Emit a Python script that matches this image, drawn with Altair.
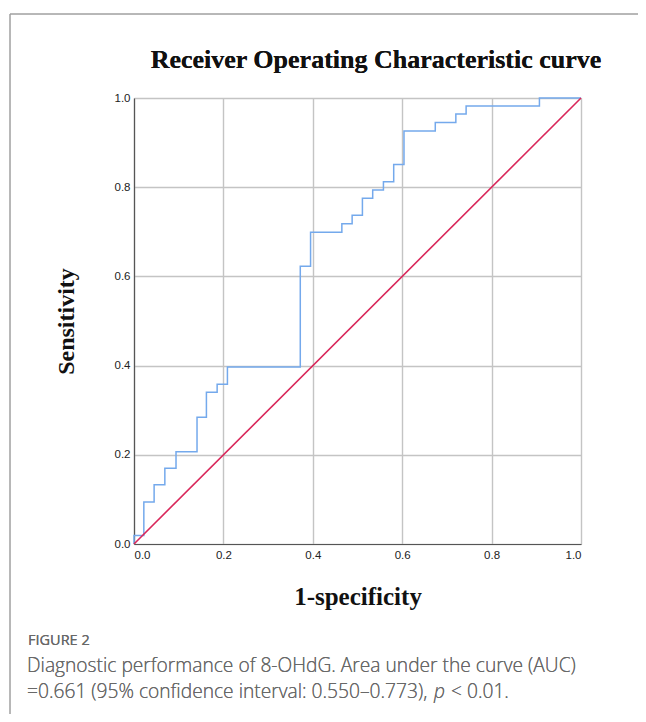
import altair as alt
import pandas as pd

# ROC curve vertices (top of each vertical step)
fpr = [0.0, 0.0, 0.022, 0.045, 0.069, 0.094, 0.141, 0.162, 0.186, 0.209,
       0.372, 0.395, 0.465, 0.488, 0.511, 0.534, 0.558, 0.581, 0.604,
       0.674, 0.720, 0.743, 0.907, 1.0]
tpr = [0.0, 0.019, 0.094, 0.133, 0.170, 0.207, 0.284, 0.340, 0.358, 0.397,
       0.623, 0.699, 0.718, 0.737, 0.775, 0.794, 0.812, 0.851, 0.926,
       0.945, 0.964, 0.982, 1.0, 1.0]
ref_x = [0.0, 1.0]
ref_y = [0.0, 1.0]
ticks = [0.0, 0.2, 0.4, 0.6, 0.8, 1.0]

chart_title = "Receiver Operating Characteristic curve"
caption_head = "FIGURE 2"
caption_line1 = "Diagnostic performance of 8-OHdG. Area under the curve (AUC)"
caption_line2a = "=0.661 (95% confidence interval: 0.550\u20130.773),"
caption_p = "p"
caption_line2b = "< 0.01."

roc = pd.DataFrame({"x": fpr, "y": tpr})
diag = pd.DataFrame({"x": ref_x, "y": ref_y})

W, H = 447, 446
PL, PT = 126, 90


def px(x):
    return x - 8 - PL


def py(y):
    return y - 8 - PT


xs = alt.Scale(domain=[0, 1], nice=False)
ys = alt.Scale(domain=[0, 1], nice=False)

xaxis = alt.Axis(values=ticks, format=".1f", title="1-specificity", grid=True,
                 titleFont="Liberation Serif", titleFontSize=25, titleFontWeight="bold",
                 titleColor="#111", titlePadding=24)
yaxis = alt.Axis(values=ticks, format=".1f", title="Sensitivity", grid=True,
                 titleFont="Liberation Serif", titleFontSize=24, titleFontWeight="bold",
                 titleColor="#111", titlePadding=36)

line = alt.Chart(roc).mark_line(interpolate="step-after", color="#74a9ec",
                                strokeWidth=1.5).encode(
    x=alt.X("x:Q", scale=xs, axis=xaxis),
    y=alt.Y("y:Q", scale=ys, axis=yaxis),
)

ref = alt.Chart(diag).mark_line(color="#d9275a", strokeWidth=1.6).encode(
    x=alt.X("x:Q", scale=xs),
    y=alt.Y("y:Q", scale=ys),
)

# Figure frame (top and left border)
frame_top = alt.Chart(diag).mark_rule(color="#a0a0a0", strokeWidth=1).encode(
    x=alt.value(px(10)), x2=alt.value(700), y=alt.value(py(14)))
frame_left = alt.Chart(diag).mark_rule(color="#a0a0a0", strokeWidth=1).encode(
    x=alt.value(px(10)), y=alt.value(py(14)), y2=alt.value(800))

title_txt = alt.Chart(diag).mark_text(
    text=chart_title, align="center", baseline="alphabetic", font="Liberation Serif",
    fontSize=26, fontWeight="bold", color="#111").encode(
    x=alt.value(px(376)), y=alt.value(py(68)))


def cap(text, x, y, size, weight=300, style="normal"):
    return alt.Chart(diag).mark_text(
        text=text, align="left", baseline="alphabetic", font="Open Sans",
        fontSize=size, fontWeight=weight, fontStyle=style, color="#686868").encode(
        x=alt.value(px(x)), y=alt.value(py(y)))


cap_head = cap(caption_head, 28, 645, 14.5, weight=400)
cap1 = cap(caption_line1, 27, 672, 19.2)
cap2a = cap(caption_line2a, 27, 698, 19.2)
cap2p = cap(caption_p, 434, 698, 19.2, style="italic")
cap2b = cap(caption_line2b, 451, 698, 19.2)

chart = alt.layer(line, ref, frame_top, frame_left, title_txt,
                  cap_head, cap1, cap2a, cap2p, cap2b).properties(
    width=W, height=H,
    autosize=alt.AutoSizeParams(type="none"),
    padding={"left": PL, "top": PT, "right": 646 - 16 - PL - W, "bottom": 722 - 16 - PT - H},
).configure_view(stroke=None).configure_axis(
    domainColor="#555", domainWidth=1.2, gridColor="#c4c4c4", gridWidth=1.4,
    ticks=False, labelFont="Liberation Sans", labelFontSize=11.5, labelColor="#222",
    labelPadding=4,
).configure_axisX(labelPadding=5)

chart.save("out.html", embed_options={"renderer": "svg", "actions": False})
